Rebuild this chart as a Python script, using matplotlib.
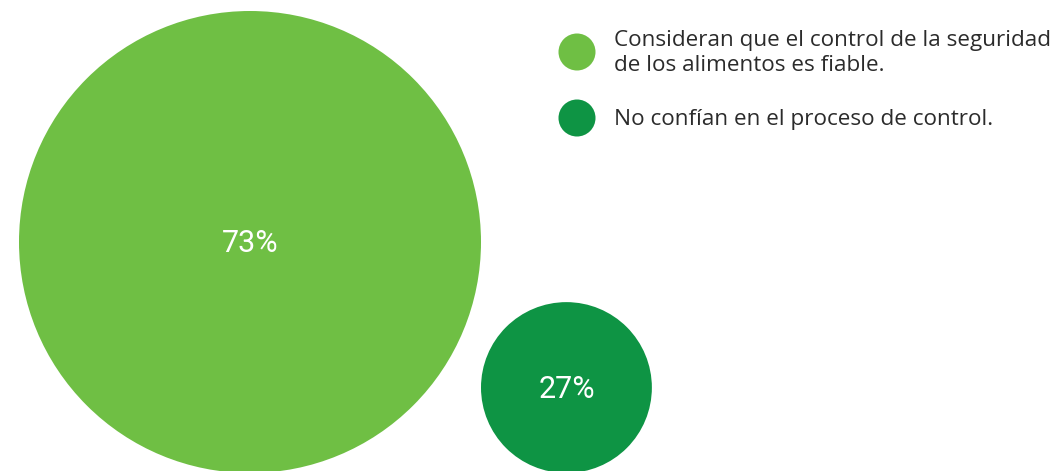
import matplotlib
matplotlib.use("Agg")
import matplotlib.pyplot as plt
from matplotlib.patches import Circle

labels = ["Consideran que el control de la seguridad\nde los alimentos es fiable.",
          "No confían en el proceso de control."]
values = [73, 27]
colors = ["#6fbf44", "#0e9444"]

W, H = 1059, 471
fig = plt.figure(figsize=(W / 100, H / 100), dpi=100)
ax = fig.add_axes([0, 0, 1, 1])
ax.set_xlim(0, W)
ax.set_ylim(H, 0)
ax.set_aspect("equal")
ax.axis("off")

scale = 231 / 73.0  # pixels of radius per percent
left = 19
bottom = 473
x_cursor = left
for v, c in zip(values, colors):
    r = v * scale
    cx = x_cursor + r
    cy = bottom - r
    ax.add_patch(Circle((cx, cy), r, color=c, lw=0))
    ax.text(cx, cy + 2, f"{v}%", color="white", ha="center", va="center",
            fontsize=22, family="Roboto", fontweight="normal")
    x_cursor = cx + r

# legend
leg_x = 577
leg_ys = [52, 118]
for lab, c, y in zip(labels, colors, leg_ys):
    ax.add_patch(Circle((leg_x, y), 18.5, color=c, lw=0))
    ax.text(614, y + 1, lab, color="#2b2b2b", ha="left", va="center",
            fontsize=16.2, family="Open Sans", linespacing=1.25)

fig.savefig("out.png", dpi=100)
